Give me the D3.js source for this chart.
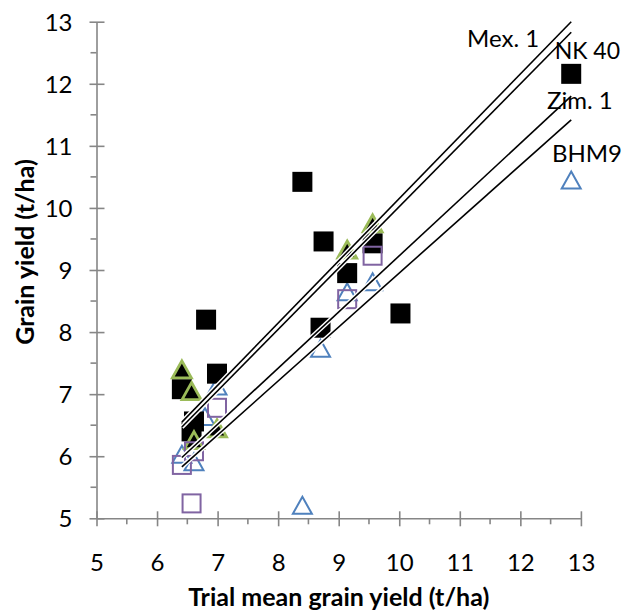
<!DOCTYPE html>
<html>
<head>
<meta charset="utf-8">
<script src="https://cdn.jsdelivr.net/npm/d3@7"></script>
<style>
  html, body { margin: 0; padding: 0; background: #fff; }
  svg { display: block; }
  text { font-family: Lato, "Open Sans", sans-serif; fill: #000; }
</style>
</head>
<body>
<svg id="chart" width="622" height="613"></svg>
<script>
// ---------- data ----------
const xTicks = [5, 6, 7, 8, 9, 10, 11, 12, 13];
const yTicks = [5, 6, 7, 8, 9, 10, 11, 12, 13];
const minorTicks = [5.5, 6.5, 7.5, 8.5, 9.5, 10.5, 11.5, 12.5];

const seriesNames = ["BHM9", "NK 40", "Mex. 1", "Zim. 1"];

const bhm9X = [6.41, 6.61, 6.79, 6.99, 8.40, 8.70, 9.14, 9.56, 12.84];
const bhm9Y = [6.03, 5.91, 6.64, 7.13, 5.21, 7.74, 8.65, 8.81, 10.45];

const nk40X = [6.41, 6.57, 6.61, 6.81, 6.99, 8.40, 8.70, 8.75, 9.14, 9.56, 10.02, 12.84];
const nk40Y = [7.08, 6.40, 6.56, 8.20, 7.33, 10.42, 8.07, 9.46, 8.95, 9.43, 8.30, 12.16];

const mex1X = [6.41, 6.57, 6.61, 6.99, 9.14, 9.56];
const mex1Y = [7.40, 7.05, 6.26, 6.45, 9.33, 9.75];

const zim1X = [6.41, 6.57, 6.61, 6.99, 9.14, 9.56];
const zim1Y = [5.86, 5.24, 6.08, 6.78, 8.53, 9.23];

// fitted lines: value at start x and end x
const lineX = [6.41, 12.84];
const mex1Line = [6.55, 13.00];
const nk40Line = [6.47, 12.83];
const zim1Line = [5.98, 11.80];
const bhm9Line = [5.83, 11.42];

// ---------- layout ----------
const svg = d3.select("#chart");
const x = d3.scaleLinear().domain([5, 13]).range([96.5, 580.9]);
const y = d3.scaleLinear().domain([5, 13]).range([518.3, 21.7]);
const axisColor = "#868686";
const fs = 24;

// x axis
const gx = svg.append("g").attr("transform", `translate(0,${y(5)})`)
  .call(d3.axisBottom(x).tickValues(xTicks).tickSize(0).tickPadding(0).tickFormat(d3.format("d")));
gx.select(".domain").attr("stroke", axisColor).attr("stroke-width", 1.6);
gx.selectAll(".tick line").attr("stroke", axisColor).attr("stroke-width", 1.6).attr("y1", -7).attr("y2", 8);
gx.selectAll(".tick text").attr("font-size", fs).attr("dy", null).attr("y", 53)
  .style("font-family", "Lato").attr("fill", "#000");
svg.append("g").attr("transform", `translate(0,${y(5)})`)
  .selectAll("line").data(minorTicks).join("line")
  .attr("x1", d => x(d)).attr("x2", d => x(d)).attr("y1", 0).attr("y2", 6)
  .attr("stroke", axisColor).attr("stroke-width", 1.6);

// y axis
const gy = svg.append("g").attr("transform", `translate(${x(5)},0)`)
  .call(d3.axisLeft(y).tickValues(yTicks).tickSize(0).tickPadding(0).tickFormat(d3.format("d")));
gy.select(".domain").attr("stroke", axisColor).attr("stroke-width", 1.6);
gy.selectAll(".tick line").attr("stroke", axisColor).attr("stroke-width", 1.6).attr("x1", -7).attr("x2", 8);
gy.selectAll(".tick text").attr("font-size", fs).attr("x", -24).attr("dy", "0.36em")
  .style("font-family", "Lato").attr("fill", "#000");
svg.append("g").attr("transform", `translate(${x(5)},0)`)
  .selectAll("line").data(minorTicks).join("line")
  .attr("y1", d => y(d)).attr("y2", d => y(d)).attr("x1", -6).attr("x2", 0)
  .attr("stroke", axisColor).attr("stroke-width", 1.6);

// axis titles
svg.append("text").attr("x", (x(5) + x(13)) / 2).attr("y", 606)
  .attr("text-anchor", "middle").attr("font-size", 25).attr("font-weight", "bold")
  .text("Trial mean grain yield (t/ha)");
svg.append("text").attr("transform", `translate(34,${252}) rotate(-90)`)
  .attr("text-anchor", "middle").attr("font-size", 25).attr("font-weight", "bold")
  .text("Grain yield (t/ha)");

// ---------- markers ----------
const zip = (xs, ys) => xs.map((v, i) => [v, ys[i]]);
const tri = (w, h) => `M0,${-h / 2}L${w / 2},${h / 2}L${-w / 2},${h / 2}Z`;

const gm = svg.append("g");
// BHM9 - hollow blue triangles
gm.append("g").selectAll("path").data(zip(bhm9X, bhm9Y)).join("path")
  .attr("d", tri(19, 17))
  .attr("transform", d => `translate(${x(d[0])},${y(d[1])})`)
  .attr("fill", "none").attr("stroke", "#4F81BD").attr("stroke-width", 2);
// NK 40 - black squares
gm.append("g").selectAll("rect").data(zip(nk40X, nk40Y)).join("rect")
  .attr("x", d => x(d[0]) - 10).attr("y", d => y(d[1]) - 10)
  .attr("width", 20).attr("height", 20).attr("fill", "#000");
// Mex. 1 - black triangles, green outline
gm.append("g").selectAll("path").data(zip(mex1X, mex1Y)).join("path")
  .attr("d", tri(19, 17))
  .attr("transform", d => `translate(${x(d[0])},${y(d[1])})`)
  .attr("fill", "#000").attr("stroke", "#9BBB59").attr("stroke-width", 2.8)
  .attr("stroke-linejoin", "miter");
// Zim. 1 - hollow purple squares
gm.append("g").selectAll("rect").data(zip(zim1X, zim1Y)).join("rect")
  .attr("x", d => x(d[0]) - 9).attr("y", d => y(d[1]) - 9)
  .attr("width", 18).attr("height", 18)
  .attr("fill", "none").attr("stroke", "#8064A2").attr("stroke-width", 2);

// ---------- fitted lines ----------
const lines = [
  { name: "Mex. 1", v: mex1Line },
  { name: "NK 40", v: nk40Line },
  { name: "Zim. 1", v: zim1Line },
  { name: "BHM9", v: bhm9Line }
];
const lineGen = d3.line().x(d => x(d[0])).y(d => y(d[1]));
const gl = svg.append("g");
lines.forEach(l => {
  gl.append("path").attr("d", lineGen(zip(lineX, l.v))).attr("stroke", "#fff")
    .attr("stroke-width", 4.5).attr("fill", "none");
});
lines.forEach(l => {
  gl.append("path").attr("d", lineGen(zip(lineX, l.v))).attr("stroke", "#000")
    .attr("stroke-width", 1.6).attr("fill", "none");
});

// ---------- line labels ----------
const labelPos = {
  "Mex. 1": [467, 47, "start"],
  "NK 40": [620, 59, "end"],
  "Zim. 1": [547, 109, "start"],
  "BHM9": [552, 162, "start"]
};
svg.append("g").selectAll("text").data(lines).join("text")
  .attr("x", d => labelPos[d.name][0]).attr("y", d => labelPos[d.name][1])
  .attr("text-anchor", d => labelPos[d.name][2])
  .attr("font-size", d => d.name === "NK 40" ? 23 : fs).text(d => d.name);
</script>
</body>
</html>
